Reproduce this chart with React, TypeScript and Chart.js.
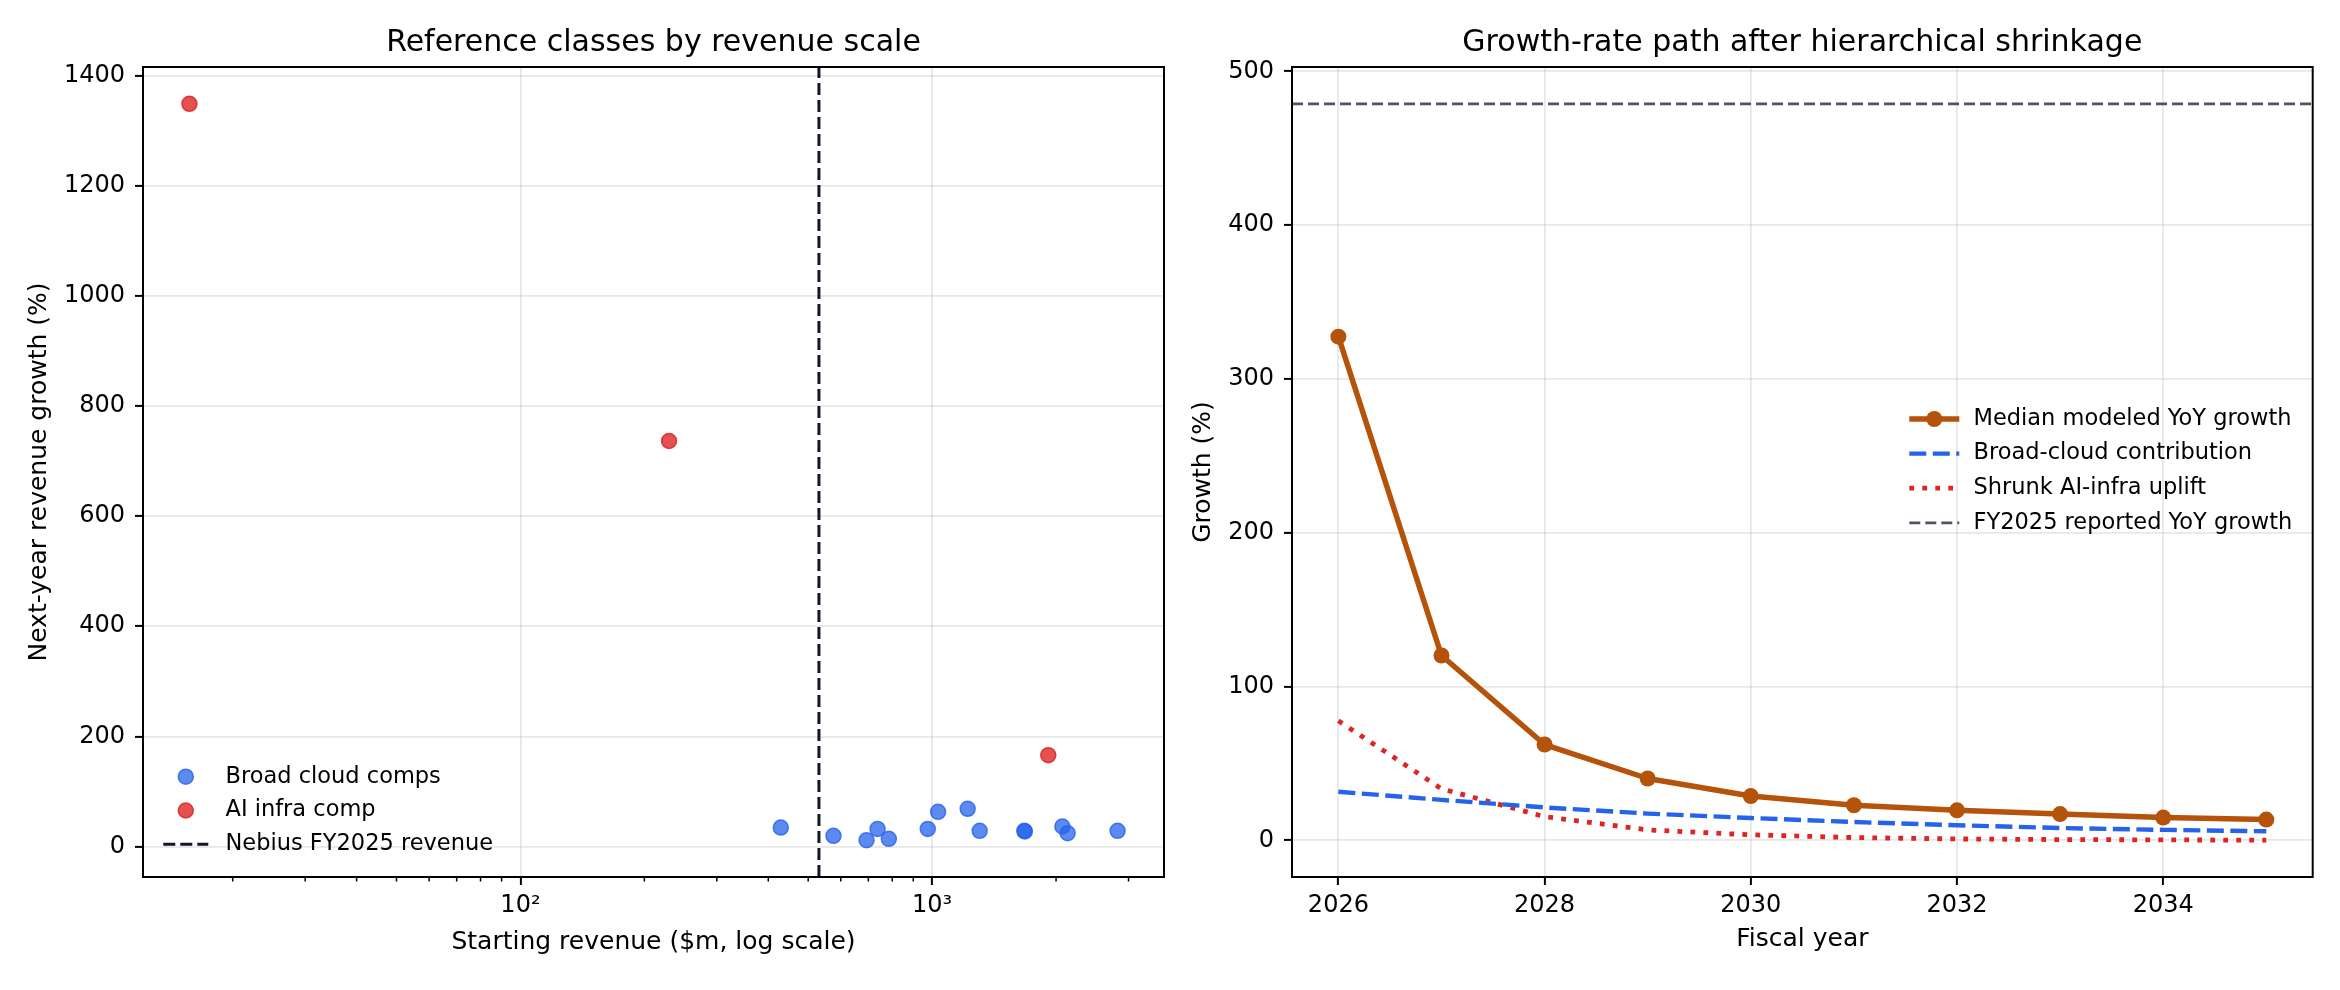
import React, { useEffect, useRef } from 'react';
import { Chart, registerables } from 'chart.js';

Chart.register(...registerables);

const FONT = "'DejaVu Sans', 'Liberation Sans', sans-serif";

// ---------- Left panel data ----------
const broadCloudRevenue = [429, 576, 693, 737, 785, 976, 1034, 1220, 1305, 1675, 1680, 2072, 2134, 2822];
const broadCloudGrowth = [34.5, 19.5, 11.6, 32, 14, 32, 63, 68.5, 28.5, 28.5, 27.5, 36.5, 24.4, 28.5];
const aiInfraRevenue = [15.7, 229.6, 1915];
const aiInfraGrowth = [1348.5, 736.4, 166];
const nebiusFY2025Revenue = 531;
const leftYTicks = [0, 200, 400, 600, 800, 1000, 1200, 1400];
const leftXMajorTicks = [100, 1000];
const leftXMajorLabels = ['10²', '10³'];
const leftXMinorTicks = [20, 30, 40, 50, 60, 70, 80, 90, 200, 300, 400, 500, 600, 700, 800, 900, 2000, 3000];

// ---------- Right panel data ----------
const fiscalYears = [2026, 2027, 2028, 2029, 2030, 2031, 2032, 2033, 2034, 2035];
const medianGrowth = [327.5, 120.2, 62.3, 40.2, 28.8, 22.8, 19.5, 17.1, 14.8, 13.5];
const broadCloudContribution = [31.6, 26.3, 21.4, 17.4, 14.5, 11.9, 9.8, 8.0, 6.8, 5.9];
const shrunkAiInfraUplift = [77.7, 33.5, 15.4, 6.8, 3.6, 1.8, 0.9, 0.5, 0.3, 0.1];
const fy2025ReportedGrowth = 478.9;
const rightYTicks = [0, 100, 200, 300, 400, 500];
const rightXTicks = [2026, 2028, 2030, 2032, 2034];

// ---------- helpers ----------
const margin = (lo: number, hi: number) => {
  const d = (hi - lo) * 0.05;
  return [lo - d, hi + d];
};

const GRID = 'rgba(176,176,176,0.3)';

function framePlugin(minorTicks: number[] | null) {
  return {
    id: 'frame',
    afterDraw(chart: any) {
      const { ctx, chartArea: a } = chart;
      ctx.save();
      if (minorTicks) {
        const sx = chart.scales.x;
        ctx.strokeStyle = '#000';
        ctx.lineWidth = 1.5;
        for (const v of minorTicks) {
          const px = sx.getPixelForValue(v);
          if (px < a.left || px > a.right) continue;
          ctx.beginPath();
          ctx.moveTo(px, a.bottom);
          ctx.lineTo(px, a.bottom + 4.5);
          ctx.stroke();
        }
      }
      ctx.strokeStyle = '#000';
      ctx.lineWidth = 2;
      ctx.strokeRect(a.left, a.top, a.right - a.left, a.bottom - a.top);
      ctx.restore();
    },
  };
}

type LegendItem = { dataset: number; kind: 'point' | 'line' | 'linepoint' };
function legendPlugin(cfg: { items: LegendItem[]; x0: number; x1: number; textX: number; y0: number; dy: number; size: number }) {
  return {
    id: 'manualLegend',
    afterDraw(chart: any) {
      const { ctx } = chart;
      ctx.save();
      cfg.items.forEach((item, i) => {
        const ds: any = chart.data.datasets[item.dataset];
        const y = cfg.y0 + i * cfg.dy;
        if (item.kind === 'line' || item.kind === 'linepoint') {
          ctx.strokeStyle = ds.borderColor;
          ctx.lineWidth = ds.borderWidth;
          ctx.lineCap = 'butt';
          ctx.setLineDash(ds.borderDash || []);
          ctx.beginPath();
          ctx.moveTo(cfg.x0, y);
          ctx.lineTo(cfg.x1, y);
          ctx.stroke();
          ctx.setLineDash([]);
        }
        if (item.kind === 'point' || item.kind === 'linepoint') {
          const r = ds.pointRadius;
          ctx.beginPath();
          ctx.arc((cfg.x0 + cfg.x1) / 2, y, r, 0, Math.PI * 2);
          ctx.fillStyle = ds.pointBackgroundColor || ds.backgroundColor;
          ctx.fill();
          const bw = ds.pointBorderWidth ?? ds.borderWidth;
          if (item.kind === 'point' && bw) {
            ctx.lineWidth = bw;
            ctx.strokeStyle = ds.borderColor;
            ctx.stroke();
          }
        }
        ctx.fillStyle = '#000';
        ctx.font = `${cfg.size}px ${FONT}`;
        ctx.textAlign = 'left';
        ctx.textBaseline = 'middle';
        ctx.fillText(ds.label, cfg.textX, y);
      });
      ctx.restore();
    },
  };
}

const tickFont = { family: FONT, size: 24 };
const axisTitleFont = { family: FONT, size: 25 };
const titleFont = { family: FONT, size: 30, weight: 'normal' as const };

export default function App() {
  const leftRef = useRef<HTMLCanvasElement>(null);
  const rightRef = useRef<HTMLCanvasElement>(null);

  useEffect(() => {
    // ----- left chart -----
    const lx = [...broadCloudRevenue, ...aiInfraRevenue].map((v) => Math.log10(v));
    const [lxa, lxb] = margin(Math.min(...lx), Math.max(...lx));
    const xMinL = Math.pow(10, lxa);
    const xMaxL = Math.pow(10, lxb);
    const ly = [...broadCloudGrowth, ...aiInfraGrowth];
    const [yMinL, yMaxL] = margin(Math.min(...ly), Math.max(...ly));

    const left = new Chart(leftRef.current as HTMLCanvasElement, {
      type: 'scatter',
      data: {
        datasets: [
          {
            label: 'Broad cloud comps',
            data: broadCloudRevenue.map((x, i) => ({ x, y: broadCloudGrowth[i] })),
            backgroundColor: 'rgba(37,99,235,0.75)',
            borderColor: 'rgba(37,99,235,0.8)',
            borderWidth: 1.5,
            pointRadius: 7.5,
            pointHoverRadius: 7.5,
          },
          {
            label: 'AI infra comp',
            data: aiInfraRevenue.map((x, i) => ({ x, y: aiInfraGrowth[i] })),
            backgroundColor: 'rgba(220,38,38,0.8)',
            borderColor: 'rgba(220,38,38,0.85)',
            borderWidth: 1.5,
            pointRadius: 7.5,
            pointHoverRadius: 7.5,
          },
          {
            type: 'line',
            label: 'Nebius FY2025 revenue',
            data: [
              { x: nebiusFY2025Revenue, y: yMinL },
              { x: nebiusFY2025Revenue, y: yMaxL },
            ],
            borderColor: '#111827',
            borderWidth: 3,
            borderDash: [12, 5],
            pointRadius: 0,
            showLine: true,
            fill: false,
          } as any,
        ],
      },
      options: {
        animation: false,
        responsive: false,
        devicePixelRatio: 1,
        events: [],
        layout: { padding: { left: 0, right: 36, top: 0, bottom: 0 } },
        plugins: {
          legend: { display: false },
          tooltip: { enabled: false },
          title: {
            display: true,
            text: 'Reference classes by revenue scale',
            fullSize: false,
            color: '#000',
            font: titleFont,
            padding: { top: 25, bottom: 6 },
          },
        },
        scales: {
          x: {
            type: 'logarithmic',
            min: xMinL,
            max: xMaxL,
            afterBuildTicks: (s: any) => {
              s.ticks = leftXMajorTicks.map((v) => ({ value: v, major: true }));
            },
            afterFit: (s: any) => {
              s.height = 113;
            },
            ticks: {
              color: '#000',
              font: tickFont,
              padding: 6,
              maxRotation: 0,
              autoSkip: false,
              callback: (v: any) => {
                const i = leftXMajorTicks.indexOf(Number(v));
                return i >= 0 ? leftXMajorLabels[i] : '';
              },
            },
            grid: { color: GRID, lineWidth: 1.8, tickLength: 8, tickColor: '#000', tickWidth: 2 },
            border: { display: false },
            title: {
              display: true,
              text: 'Starting revenue ($m, log scale)',
              color: '#000',
              font: axisTitleFont,
              padding: { top: 0, bottom: 32.5 },
            },
          },
          y: {
            type: 'linear',
            min: yMinL,
            max: yMaxL,
            afterBuildTicks: (s: any) => {
              s.ticks = leftYTicks.map((v) => ({ value: v }));
            },
            afterFit: (s: any) => {
              s.width = 143;
            },
            ticks: { color: '#000', font: tickFont, padding: 10, callback: (v: any) => String(v) },
            grid: { color: GRID, lineWidth: 1.8, tickLength: 8, tickColor: '#000', tickWidth: 2 },
            border: { display: false },
            title: {
              display: true,
              text: 'Next-year revenue growth (%)',
              color: '#000',
              font: axisTitleFont,
              padding: { top: 24.5, bottom: 0 },
            },
          },
        },
      } as any,
      plugins: [
        framePlugin(leftXMinorTicks),
        legendPlugin({
          items: [
            { dataset: 0, kind: 'point' },
            { dataset: 1, kind: 'point' },
            { dataset: 2, kind: 'line' },
          ],
          x0: 163.3,
          x1: 208.3,
          textX: 225.5,
          y0: 776.7,
          dy: 33.8,
          size: 22.5,
        }),
      ],
    });

    // ----- right chart -----
    const [xMinR, xMaxR] = margin(Math.min(...fiscalYears), Math.max(...fiscalYears));
    const ry = [...medianGrowth, ...broadCloudContribution, ...shrunkAiInfraUplift, fy2025ReportedGrowth];
    const [yMinR, yMaxR] = margin(Math.min(...ry), Math.max(...ry));

    const right = new Chart(rightRef.current as HTMLCanvasElement, {
      type: 'line',
      data: {
        datasets: [
          {
            label: 'Median modeled YoY growth',
            data: fiscalYears.map((x, i) => ({ x, y: medianGrowth[i] })),
            borderColor: '#b45309',
            backgroundColor: '#b45309',
            borderWidth: 5.5,
            borderJoinStyle: 'round',
            pointRadius: 8,
            pointHoverRadius: 8,
            pointBackgroundColor: '#b45309',
            pointBorderColor: '#b45309',
            pointBorderWidth: 0,
            tension: 0,
          },
          {
            label: 'Broad-cloud contribution',
            data: fiscalYears.map((x, i) => ({ x, y: broadCloudContribution[i] })),
            borderColor: '#2563eb',
            backgroundColor: '#2563eb',
            borderWidth: 4.4,
            borderDash: [17, 6.5],
            pointRadius: 0,
            tension: 0,
          },
          {
            label: 'Shrunk AI-infra uplift',
            data: fiscalYears.map((x, i) => ({ x, y: shrunkAiInfraUplift[i] })),
            borderColor: '#dc2626',
            backgroundColor: '#dc2626',
            borderWidth: 4.8,
            borderDash: [4.8, 8.2],
            pointRadius: 0,
            tension: 0,
          },
          {
            label: 'FY2025 reported YoY growth',
            data: [
              { x: xMinR, y: fy2025ReportedGrowth },
              { x: xMaxR, y: fy2025ReportedGrowth },
            ],
            borderColor: '#4b5563',
            backgroundColor: '#4b5563',
            borderWidth: 2.8,
            borderDash: [11, 5],
            pointRadius: 0,
          },
        ],
      },
      options: {
        animation: false,
        responsive: false,
        devicePixelRatio: 1,
        events: [],
        layout: { padding: { left: 0, right: 27.3, top: 0, bottom: 0 } },
        plugins: {
          legend: { display: false },
          tooltip: { enabled: false },
          title: {
            display: true,
            text: 'Growth-rate path after hierarchical shrinkage',
            fullSize: false,
            color: '#000',
            font: titleFont,
            padding: { top: 25, bottom: 6 },
          },
        },
        scales: {
          x: {
            type: 'linear',
            min: xMinR,
            max: xMaxR,
            afterBuildTicks: (s: any) => {
              s.ticks = rightXTicks.map((v) => ({ value: v }));
            },
            afterFit: (s: any) => {
              s.height = 113;
            },
            ticks: { color: '#000', font: tickFont, padding: 6, maxRotation: 0, autoSkip: false, callback: (v: any) => String(v) },
            grid: { color: GRID, lineWidth: 1.8, tickLength: 8, tickColor: '#000', tickWidth: 2 },
            border: { display: false },
            title: {
              display: true,
              text: 'Fiscal year',
              color: '#000',
              font: axisTitleFont,
              padding: { top: 0, bottom: 36 },
            },
          },
          y: {
            type: 'linear',
            min: yMinR,
            max: yMaxR,
            afterBuildTicks: (s: any) => {
              s.ticks = rightYTicks.map((v) => ({ value: v }));
            },
            afterFit: (s: any) => {
              s.width = 122;
            },
            ticks: { color: '#000', font: tickFont, padding: 10, callback: (v: any) => String(v) },
            grid: { color: GRID, lineWidth: 1.8, tickLength: 8, tickColor: '#000', tickWidth: 2 },
            border: { display: false },
            title: {
              display: true,
              text: 'Growth (%)',
              color: '#000',
              font: axisTitleFont,
              padding: { top: 18.5, bottom: 0 },
            },
          },
        },
      } as any,
      plugins: [
        framePlugin(null),
        legendPlugin({
          items: [
            { dataset: 0, kind: 'linepoint' },
            { dataset: 1, kind: 'line' },
            { dataset: 2, kind: 'line' },
            { dataset: 3, kind: 'line' },
          ],
          x0: 739.3,
          x1: 789.3,
          textX: 803.5,
          y0: 419,
          dy: 34.6,
          size: 22.5,
        }),
      ],
    });

    return () => {
      left.destroy();
      right.destroy();
    };
  }, []);

  return (
    <div style={{ position: 'absolute', left: 0, top: 0, width: 2340, height: 990, background: '#fff', overflow: 'hidden' }}>
      <canvas
        ref={leftRef}
        width={1200}
        height={990}
        style={{ position: 'absolute', left: 0, top: 0, width: 1200, height: 990 }}
      />
      <canvas
        ref={rightRef}
        width={1170}
        height={990}
        style={{ position: 'absolute', left: 1170, top: 0, width: 1170, height: 990 }}
      />
    </div>
  );
}
